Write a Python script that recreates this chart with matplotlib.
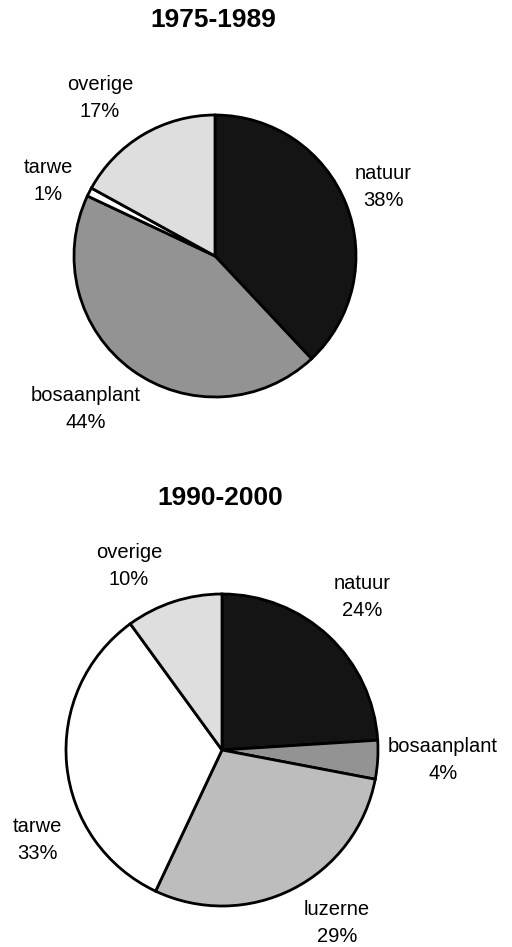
import matplotlib
matplotlib.use("Agg")
import matplotlib.pyplot as plt

# Data
titles = ["1975-1989", "1990-2000"]
cats1 = ["natuur", "bosaanplant", "tarwe", "overige"]
vals1 = [38, 44, 1, 17]
cats2 = ["natuur", "bosaanplant", "luzerne", "tarwe", "overige"]
vals2 = [24, 4, 29, 33, 10]

colmap = {"natuur": "#141414", "bosaanplant": "#939393", "luzerne": "#bdbdbd",
          "tarwe": "#ffffff", "overige": "#dedede"}

W, H = 512, 947
fig = plt.figure(figsize=(W / 100, H / 100), dpi=100)
ax = fig.add_axes([0, 0, 1, 1])
ax.set_xlim(0, W)
ax.set_ylim(0, H)
ax.set_aspect("equal")
ax.axis("off")

font = "Liberation Sans"

def draw(cats, vals, center, radius, labelpos, title, title_xy):
    ax.pie(vals, colors=[colmap[c] for c in cats], startangle=90, counterclock=False,
           center=(center[0], H - center[1]), radius=radius,
           wedgeprops=dict(edgecolor="black", linewidth=2.0), frame=True)
    for c, v in zip(cats, vals):
        x, y = labelpos[c]
        ax.text(x, H - y, f"{c}\n{v}%", ha="center", va="center", fontsize=14.5,
                family=font, linespacing=1.55)
    ax.text(title_xy[0], H - title_xy[1], title, ha="center", va="center", fontsize=19,
            fontweight="bold", family=font)

draw(cats1, vals1, (215, 256), 141,
     {"natuur": (383, 187), "bosaanplant": (86, 409), "tarwe": (48, 181),
      "overige": (100, 98)}, titles[0], (213, 20))
draw(cats2, vals2, (222, 750), 156,
     {"natuur": (362, 597), "bosaanplant": (443, 760), "luzerne": (337, 923),
      "tarwe": (37, 840), "overige": (129, 566)}, titles[1], (220, 498))

ax.set_xlim(0, W)
ax.set_ylim(0, H)
ax.axis("off")
fig.savefig("out.png", dpi=100, facecolor="white")
